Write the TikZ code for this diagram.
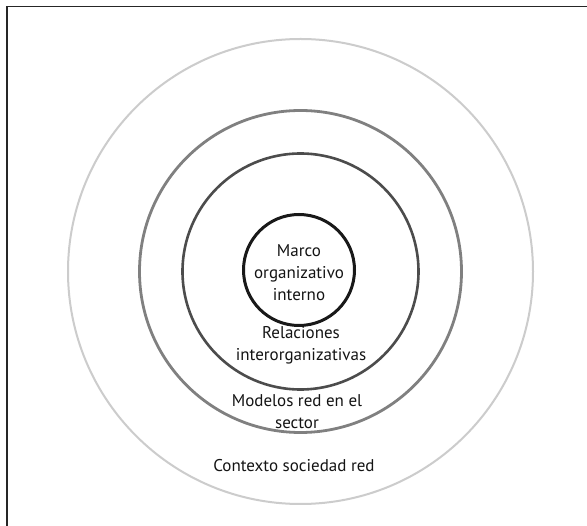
\documentclass[tikz,border=0pt]{standalone}
\usepackage{fontspec}
\setmainfont{PT Sans}
\begin{document}
\begin{tikzpicture}[x=1pt,y=-1pt,
  ring/.style={circle,inner sep=0pt,minimum size=#1},
  lbl/.style={align=center,font=\fontsize{17}{22}\selectfont,text=black!92,inner sep=0pt}]
\useasboundingbox (0,0) rectangle (587,526);
\fill[white] (0,0) rectangle (587,526);
\draw[line width=1.6pt,black!85] (587,6.5) -- (7,6.5) -- (7,526);
\coordinate (c) at (300.5,271.5);
\node[ring=465pt,draw=black!20,line width=2pt] (r4) at (c) {};
\node[ring=322pt,draw=black!50,line width=2.8pt] (r3) at (c) {};
\node[ring=236pt,draw=black!70,line width=2.6pt] (r2) at (c) {};
\node[ring=111pt,draw=black!90,line width=3pt] (r1) at (299,270) {};
\node[lbl] (t1) at (299,273) {Marco\\organizativo\\interno};
\node[lbl] (t2) at (301,345) {Relaciones\\interorganizativas};
\node[lbl] (t3) at (297,411.5) {Modelos red en el\\sector};
\node[lbl] (t4) at (294,466) {Contexto sociedad red};
\end{tikzpicture}
\end{document}
